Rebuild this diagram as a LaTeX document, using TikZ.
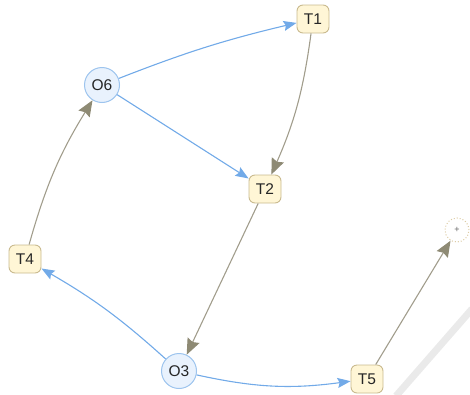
\documentclass[tikz,border=0pt]{standalone}
\usepackage{fontspec}
\setmainfont{Liberation Sans}
\usetikzlibrary{arrows.meta}
\definecolor{taskfill}{HTML}{FFF6D6}
\definecolor{taskdraw}{HTML}{C9BA8E}
\definecolor{objfill}{HTML}{E9F2FD}
\definecolor{objdraw}{HTML}{9DC4EE}
\definecolor{flowblue}{HTML}{72AAE8}
\definecolor{flowgrey}{HTML}{A19D8C}
\definecolor{tipgrey}{HTML}{8E8A74}
\definecolor{addring}{HTML}{DCCBA4}
\definecolor{band}{HTML}{EAEAEA}
\begin{document}
\begin{tikzpicture}[x=1pt,y=-1pt,
  taskbox/.style={draw=taskdraw,fill=taskfill,rounded corners=6pt,line width=0.9pt,
    minimum width=32pt,minimum height=28pt,inner sep=0pt,font=\fontsize{15.5}{15.5}\selectfont,text=black!85},
  objcirc/.style={circle,draw=objdraw,fill=objfill,line width=1pt,minimum size=35pt,
    inner sep=0pt,font=\fontsize{15.5}{15.5}\selectfont,text=black!85},
  addnode/.style={circle,draw=addring,dotted,line width=1pt,minimum size=24pt,inner sep=0pt,
    font=\fontsize{9}{9}\selectfont,text=black!60},
  blueflow/.style={draw=flowblue,line width=1.1pt,-{Stealth[length=13pt,width=10pt,inset=2pt,color=flowblue]}},
  greyflow/.style={draw=flowgrey,line width=1.1pt,-{Stealth[length=16pt,width=13pt,inset=2pt,color=tipgrey]}}
]
\useasboundingbox (0,0) rectangle (470,394);
% resize band in the corner
\draw[band,line width=7pt] (472,309) -- (396,396);

\node[objcirc] (O6) at (102,85) {O6};
\node[objcirc] (O3) at (179,371) {O3};
\node[taskbox] (T1) at (313,19) {T1};
\node[taskbox] (T2) at (265,189) {T2};
\node[taskbox] (T4) at (25,259) {T4};
\node[taskbox] (T5) at (367,379) {T5};
\node[addnode] (add) at (457,230) {+};

\draw[blueflow] (O6) to[bend left=4] (T1);
\draw[blueflow] (O6) -- (T2);
\draw[greyflow] (T1) to[bend left=8] (T2);
\draw[greyflow] (T2) -- (O3);
\draw[blueflow] (O3) to[bend right=6] (T4);
\draw[greyflow] (T4) to[bend left=8] (O6);
\draw[blueflow] (O3) to[bend right=10] (T5);
\draw[greyflow] (T5) -- (add);
\end{tikzpicture}
\end{document}
